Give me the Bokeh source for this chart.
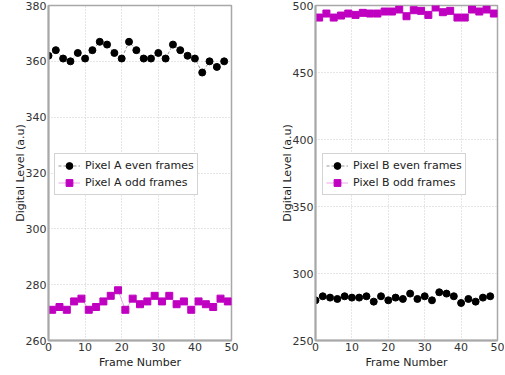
from bokeh.plotting import figure
from bokeh.layouts import row
from bokeh.models import Range1d, FixedTicker, Legend, LegendItem
from bokeh.embed import file_html
from bokeh.resources import INLINE

even_frames = list(range(0, 50, 2))
odd_frames = list(range(1, 50, 2))

a_even = [362, 364, 361, 360, 363, 361, 364, 367, 366, 363, 361, 367, 364,
          361, 361, 363, 361, 366, 364, 362, 361, 356, 360, 358, 360]
a_odd = [271, 272, 271, 274, 275, 271, 272, 274, 276, 278, 271, 275, 273,
         274, 276, 274, 276, 273, 274, 271, 274, 273, 272, 275, 274]
b_even = [280, 283, 282, 281, 283, 282, 282, 283, 279, 283, 280, 282, 281,
          285, 281, 283, 280, 286, 285, 283, 278, 281, 279, 282, 283]
b_odd = [491, 494, 491, 492.5, 494, 493, 494.5, 494, 494, 495.5, 495.5, 497, 492,
         496.5, 496, 493, 498.5, 495, 496, 491, 491, 497, 495.5, 497, 494]

x_ticks = [0, 10, 20, 30, 40, 50]
a_ticks = [260, 280, 300, 320, 340, 360, 380]
b_ticks = [250, 300, 350, 400, 450, 500]

FONT = "DejaVu Sans"
GREY = "#a8a8a8"
MAG = "#c000c0"


def make_fig(width, bl, br, yr, yticks, ye, yo, lab_e, lab_o, lx):
    p = figure(width=width, height=372, output_backend="svg", toolbar_location=None,
               x_range=Range1d(0, 50), y_range=Range1d(*yr),
               min_border_left=bl, min_border_right=br, min_border_top=5, min_border_bottom=32)
    p.xaxis.ticker = FixedTicker(ticks=x_ticks)
    p.yaxis.ticker = FixedTicker(ticks=yticks)
    for ax in (p.xaxis[0], p.yaxis[0]):
        ax.axis_line_color = GREY
        ax.axis_line_width = 2
        ax.major_tick_line_color = GREY
        ax.major_tick_in = 0
        ax.major_tick_out = 0
        ax.minor_tick_line_color = None
        ax.major_label_text_font = FONT
        ax.major_label_text_font_size = "11px"
        ax.major_label_text_color = "#333333"
        ax.axis_label_text_font = FONT
        ax.axis_label_text_font_size = "11px"
        ax.axis_label_text_font_style = "normal"
        ax.axis_label_text_color = "#222222"
        ax.axis_label_standoff = 2
        ax.major_label_standoff = 2
    p.yaxis.axis_label_standoff = -4
    p.xaxis.axis_label = "Frame Number"
    p.yaxis.axis_label = "Digital Level (a.u)"
    p.outline_line_color = GREY
    p.outline_line_width = 1.5
    p.grid.grid_line_color = "#cccccc"
    p.grid.grid_line_dash = "1 2"
    p.grid.grid_line_width = 1

    l1 = p.line(even_frames, ye, line_color="#444444", line_dash="3 2", line_width=0.7, line_alpha=0.8)
    s1 = p.scatter(even_frames, ye, marker="circle", size=7, fill_color="black", line_color="black")
    l2 = p.line(odd_frames, yo, line_color=MAG, line_width=0.7, line_alpha=0.5)
    s2 = p.scatter(odd_frames, yo, marker="square", size=7, fill_color=MAG, line_color=MAG)

    legend = Legend(items=[LegendItem(label=lab_e, renderers=[l1, s1]),
                           LegendItem(label=lab_o, renderers=[l2, s2])],
                    location=(lx, 145))
    legend.label_text_font = FONT
    legend.label_text_font_size = "11px"
    legend.label_text_color = "#222222"
    legend.border_line_color = GREY
    legend.border_line_width = 1
    legend.padding = 3
    legend.spacing = 0
    legend.margin = 0
    legend.glyph_width = 22
    legend.glyph_height = 17
    legend.label_height = 17
    legend.label_standoff = 5
    legend.background_fill_alpha = 1
    p.add_layout(legend, "center")
    return p


p1 = make_fig(262, 48, 31, (260, 380), a_ticks, a_even, a_odd,
              "Pixel A even frames", "Pixel A odd frames", 6)
p2 = make_fig(242, 53, 7, (250, 500), b_ticks, b_even, b_odd,
              "Pixel B even frames", "Pixel B odd frames", 7)

layout = row(p1, p2)

with open("out.html", "w") as f:
    f.write(file_html(layout, INLINE))
